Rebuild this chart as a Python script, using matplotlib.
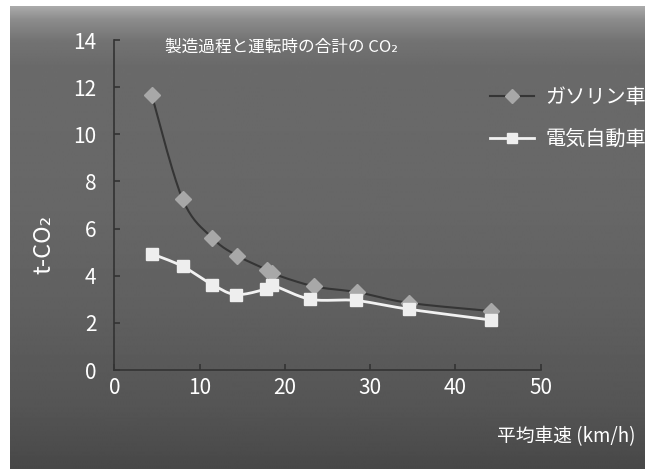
import matplotlib
matplotlib.use("Agg")
import matplotlib.pyplot as plt
import numpy as np

plt.rcParams['font.family'] = ['Noto Sans CJK JP', 'DejaVu Sans']

# average speed (km/h) vs. lifetime CO2 (t), manufacturing + driving
speed_gas = [4.4, 8.0, 11.5, 14.4, 17.9, 18.5, 23.4, 28.5, 34.5, 44.2]
co2_gas = [11.65, 7.25, 5.6, 4.85, 4.25, 4.1, 3.55, 3.3, 2.85, 2.5]
speed_ev = [4.4, 8.0, 11.5, 14.3, 17.8, 18.5, 23.0, 28.3, 34.5, 44.2]
co2_ev = [4.93, 4.4, 3.62, 3.2, 3.44, 3.6, 3.0, 2.95, 2.58, 2.12]

label_gas = "ガソリン車"
label_ev = "電気自動車"
title = "製造過程と運転時の合計の CO₂"
xlabel = "平均車速 (km/h)"
ylabel = "t-CO₂"


def smooth(x, y, n=20):
    # Catmull-Rom curve through the points, like a spreadsheet "smoothed line"
    x = np.asarray(x, float)
    y = np.asarray(y, float)
    px = np.concatenate([[x[0]], x, [x[-1]]])
    py = np.concatenate([[y[0]], y, [y[-1]]])
    xs, ys = [], []
    t = np.linspace(0, 1, n, endpoint=False)
    for i in range(1, len(px) - 2):
        for p, out in ((px, xs), (py, ys)):
            p0, p1, p2, p3 = p[i - 1], p[i], p[i + 1], p[i + 2]
            out.extend(0.5 * (2 * p1 + (-p0 + p2) * t
                              + (2 * p0 - 5 * p1 + 4 * p2 - p3) * t ** 2
                              + (-p0 + 3 * p1 - 3 * p2 + p3) * t ** 3))
    xs.append(x[-1])
    ys.append(y[-1])
    return np.array(xs), np.array(ys)


fig = plt.figure(figsize=(6.45, 4.69), dpi=100, facecolor='white')

# gray gradient panel behind everything
bg = fig.add_axes([10 / 645, 0, 1 - 10 / 645, 1 - 6 / 469], zorder=-5)
stops_y = [0, 14, 35, 60, 200, 300, 400, 463]
stops_v = [172, 140, 115, 106, 103, 96, 85, 72]
grad = np.interp(np.arange(463), stops_y, stops_v) / 255.0
bg.imshow(np.tile(grad[:, None], (1, 10)), cmap='gray', vmin=0, vmax=1,
          aspect='auto', extent=[0, 1, 0, 1], interpolation='bilinear')
bg.set_axis_off()

ax = fig.add_axes([114.3 / 645, 1 - 370 / 469, 426.4 / 645, 330 / 469])
ax.patch.set_alpha(0)

gx, gy = smooth(speed_gas, co2_gas)
ex, ey = smooth(speed_ev, co2_ev)
ax.plot(gx, gy, color='#353535', lw=1.5, zorder=2)
ax.plot(speed_gas, co2_gas, ls='none', marker='D', ms=8.5, color='#a8a8a8',
        mec='#a8a8a8', zorder=3)
ax.plot(ex, ey, color='#f2f2f2', lw=2, zorder=2)
ax.plot(speed_ev, co2_ev, ls='none', marker='s', ms=8.5, color='#eeeeee',
        mec='#eeeeee', zorder=3)

# legend handles
ax.plot([], [], color='#353535', lw=1.5, marker='D', ms=7, mfc='#a8a8a8',
        mec='#a8a8a8', label=label_gas)
ax.plot([], [], color='#f2f2f2', lw=2, marker='s', ms=7.5, mfc='#eeeeee',
        mec='#eeeeee', label=label_ev)
h, l = ax.get_legend_handles_labels()
leg = ax.legend(h[-2:], l[-2:], loc='center left', frameon=False,
                bbox_to_anchor=(490 / 645, 1 - 118.5 / 469), bbox_transform=fig.transFigure,
                fontsize=14.5, handlelength=2.2, handletextpad=0.55, labelspacing=1.05,
                borderpad=0, borderaxespad=0)
for t in leg.get_texts():
    t.set_color('white')

ax.set_xlim(0, 50)
ax.set_ylim(0, 14)
ax.set_xticks(range(0, 51, 10))
ax.set_yticks(range(0, 15, 2))
for s in ('top', 'right'):
    ax.spines[s].set_visible(False)
for s in ('left', 'bottom'):
    ax.spines[s].set_color('#333333')
    ax.spines[s].set_linewidth(1.2)
ax.tick_params(axis='both', direction='in', length=4, width=1.2, color='#333333',
               labelcolor='white', labelsize=15)
ax.tick_params(axis='y', pad=13)
ax.tick_params(axis='x', pad=5)

fig.text(165 / 645, 1 - 47 / 469, title, color='white', fontsize=12,
         ha='left', va='center')
fig.text(44 / 645, 1 - 244 / 469, ylabel, color='white', fontsize=17,
         rotation=90, ha='center', va='center')
fig.text(497 / 645, 1 - 437 / 469, xlabel, color='white', fontsize=13.5,
         ha='left', va='center')

fig.savefig('out.png', dpi=100, facecolor='white')
